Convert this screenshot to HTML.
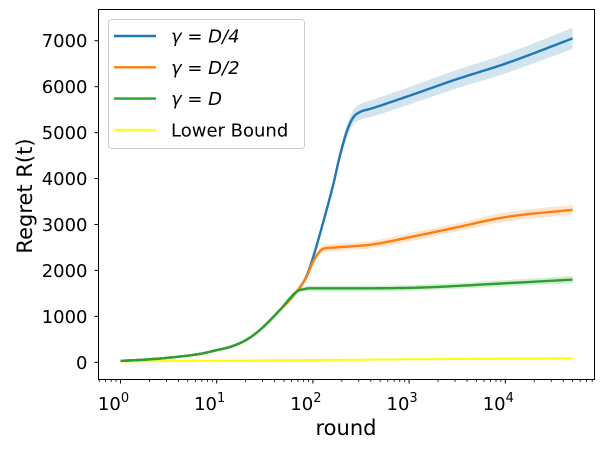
<!DOCTYPE html>
<html><head><meta charset="utf-8"><style>
body{margin:0;background:#fff;}
svg{display:block;font-family:"DejaVu Sans","Liberation Sans",sans-serif;}
</style></head><body>
<svg id="chart" width="603" height="449" viewBox="0 0 603 449"></svg>
<script>
const blueRounds = [1,2,4,7,10,14,20,28,45,68,86,101,128,164,190,230,265,310,400,1000,3000,10000,50000];
const blueVals   = [30,65,122,190,265,340,480,700,1130,1540,1880,2300,3050,3900,4480,5080,5340,5450,5520,5800,6150,6500,7050];
const blueStd    = [5,5,5,8,10,12,15,20,30,40,50,60,80,100,120,140,160,170,180,190,200,210,230];
const orangeRounds = [1,2,4,7,10,14,20,28,45,68,86,101,128,150,200,400,1000,3000,10000,50000];
const orangeVals   = [30,65,122,190,265,340,480,700,1130,1540,1860,2200,2470,2490,2510,2560,2720,2930,3160,3320];
const orangeStd    = [5,5,5,8,10,12,15,20,30,40,50,60,80,80,80,80,90,90,100,110];
const greenRounds = [1,2,4,7,10,14,20,28,45,68,82,92,200,1000,10000,50000];
const greenVals   = [30,65,122,190,265,340,480,700,1130,1540,1595,1610,1610,1620,1720,1800];
const greenStd    = [5,5,5,8,10,12,15,20,30,40,50,60,60,60,70,80];
const lowerRounds = [1,10,100,1000,10000,50000];
const lowerVals   = [20,35,50,65,80,90];
const yTicks = [0,1000,2000,3000,4000,5000,6000,7000];
const xTickExps = [0,1,2,3,4];

const X0=98.5,X1=594.5,Y0=9.5,Y1=379.5;
const xs = t => 120.5 + 96.2*Math.log10(t);
const ys = v => 362.3 - v*0.04594;
const svg = document.getElementById('chart');
const NS='http://www.w3.org/2000/svg';
function el(tag, attrs, parent){const e=document.createElementNS(NS,tag);for(const k in attrs)e.setAttribute(k,attrs[k]);(parent||svg).appendChild(e);return e;}
function interp(rs, vals){
  const x=rs.map(t=>Math.log10(t)), y=vals, n=x.length;
  const d=[],m=[];
  for(let i=0;i<n-1;i++)d.push((y[i+1]-y[i])/(x[i+1]-x[i]));
  m[0]=d[0];m[n-1]=d[n-2];
  for(let i=1;i<n-1;i++)m[i]=(d[i-1]*d[i]<=0)?0:(d[i-1]+d[i])/2;
  for(let i=0;i<n-1;i++){
    if(d[i]===0){m[i]=0;m[i+1]=0;continue;}
    const a=m[i]/d[i],b=m[i+1]/d[i],s=a*a+b*b;
    if(s>9){const tt=3/Math.sqrt(s);m[i]=tt*a*d[i];m[i+1]=tt*b*d[i];}
  }
  const pts=[];
  for(let i=0;i<n-1;i++){
    const h=x[i+1]-x[i];
    for(let k=0;k<20;k++){
      const t=k/20,t2=t*t,t3=t2*t;
      const v=(2*t3-3*t2+1)*y[i]+(t3-2*t2+t)*h*m[i]+(-2*t3+3*t2)*y[i+1]+(t3-t2)*h*m[i+1];
      pts.push([xs(Math.pow(10,x[i]+t*h)),ys(v)]);
    }
  }
  pts.push([xs(rs[n-1]),ys(y[n-1])]);
  return pts;
}
const toD=p=>'M'+p.map(q=>q[0].toFixed(2)+','+q[1].toFixed(2)).join(' L');
function band(rs,vals,std,color,name){
  const up=interp(rs,vals.map((v,i)=>v+std[i]));
  const lo=interp(rs,vals.map((v,i)=>v-std[i])).reverse();
  const p=el('path',{d:toD(up.concat(lo))+' Z',fill:color,'fill-opacity':0.2,stroke:'none'});
  
  
}
function line(rs,vals,color,w,name){
  const p=el('path',{d:toD(interp(rs,vals)),fill:'none',stroke:color,'stroke-width':w,'stroke-linejoin':'round'});
  
  
}
band(blueRounds,blueVals,blueStd,'#1f77b4','band-d4');
band(orangeRounds,orangeVals,orangeStd,'#ff7f0e','band-d2');
band(greenRounds,greenVals,greenStd,'#2ca02c','band-d');
line(lowerRounds,lowerVals,'#ffff00',2,'line-lower-bound');
line(blueRounds,blueVals,'#1f77b4',2.4,'line-d4');
line(orangeRounds,orangeVals,'#ff7f0e',2.4,'line-d2');
line(greenRounds,greenVals,'#2ca02c',2.4,'line-d');

const fr=el('rect',{x:X0,y:Y0,width:X1-X0,height:Y1-Y0,fill:'none',stroke:'#000','stroke-width':1});


yTicks.forEach(v=>{
  const y=ys(v);
  el('line',{x1:X0-4,x2:X0,y1:y,y2:y,stroke:'#000'});
  const t=el('text',{x:X0-11,y:y+6.5,'text-anchor':'end','font-size':18});
  t.textContent=v;
  
  
});
xTickExps.forEach(e=>{
  const x=xs(Math.pow(10,e));
  el('line',{x1:x,x2:x,y1:Y1,y2:Y1+4,stroke:'#000'});
  const t=el('text',{x:x-7,y:410,'text-anchor':'middle','font-size':18});
  t.innerHTML='10<tspan dy="-8" font-size="13">'+e+'</tspan>';
  
  
});
for(let e=-1;e<5;e++){for(let m=2;m<10;m++){const x=xs(m*Math.pow(10,e));if(x>X0&&x<X1)el('line',{x1:x,x2:x,y1:Y1,y2:Y1+2.5,stroke:'#000','stroke-width':0.8});}}
let t=el('text',{x:346,y:435,'text-anchor':'middle','font-size':21});t.textContent='round';

t=el('text',{x:0,y:0,'text-anchor':'middle','font-size':21,transform:'translate(32,196) rotate(-90)'});t.textContent='Regret R(t)';


const lg=el('g',{});

el('rect',{x:108.5,y:19.5,width:196,height:129,rx:3,fill:'#fff','fill-opacity':0.8,stroke:'#ccc'},lg);
const legItems=[['#1f77b4','γ = D/4',true],['#ff7f0e','γ = D/2',true],['#2ca02c','γ = D',true],['#ffff00','Lower Bound',false]];
legItems.forEach((it,i)=>{
  const y=36+i*31.3;
  el('line',{x1:114,x2:156,y1:y,y2:y,stroke:it[0],'stroke-width':it[2]?2.4:2},lg);
  const tx=el('text',{x:171,y:y+6.5,'font-size':18,'font-style':it[2]?'italic':'normal'},lg);
  tx.textContent=it[1];
  
  
});
</script>
</body></html>
